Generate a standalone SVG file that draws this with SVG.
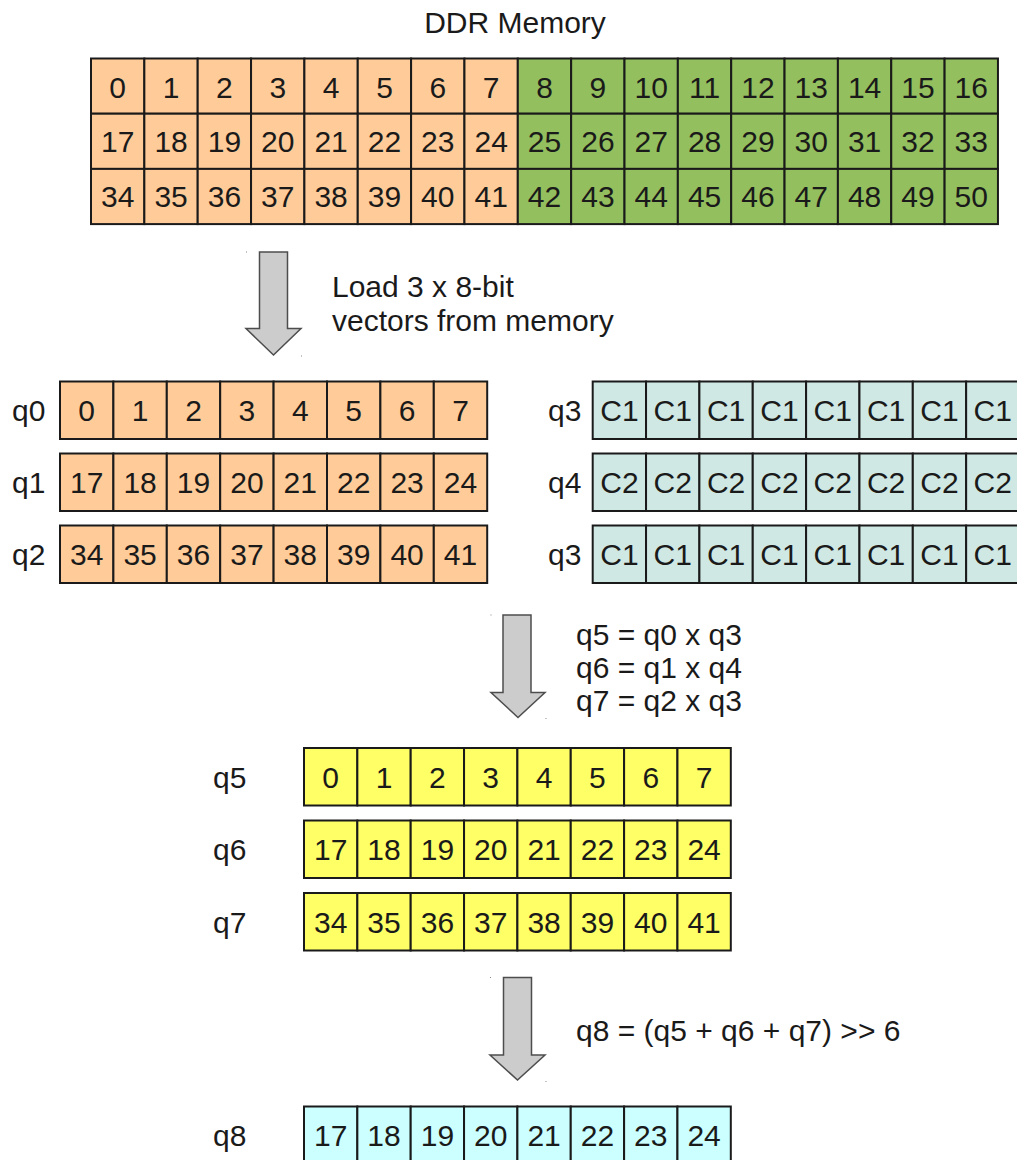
<svg xmlns="http://www.w3.org/2000/svg" width="1017" height="1160" viewBox="0 0 1017 1160">
  <style>
    text { font-family: "Liberation Sans", Arial, sans-serif; font-size: 30px; fill: #1a1a1a; }
    .c { text-anchor: middle; }
    .cell { stroke: #1a1a1a; stroke-width: 2; }
    .peach { fill: #ffcc99; }
    .green { fill: #94bf5e; }
    .teal { fill: #d0e8e4; }
    .yellow { fill: #ffff66; }
    .cyan { fill: #ccffff; }
    .arrow { fill: #cccccc; stroke: #4d4d4d; stroke-width: 1.5; stroke-linejoin: miter; }
    .dot { fill: #888888; }
  </style>

  <rect width="1017" height="1160" fill="#ffffff"/>

  <!-- DDR memory block: 3 rows x 17 bytes -->
  <g id="ddr-memory">
    <text class="c" x="515" y="33">DDR Memory</text>
    <g class="cell">
      <!-- row 0..2, columns 0..7 peach, 8..16 green -->
      <rect class="peach" x="91" y="58.5" width="53.35" height="55.2"/>
      <rect class="peach" x="144.35" y="58.5" width="53.35" height="55.2"/>
      <rect class="peach" x="197.7" y="58.5" width="53.35" height="55.2"/>
      <rect class="peach" x="251.05" y="58.5" width="53.35" height="55.2"/>
      <rect class="peach" x="304.4" y="58.5" width="53.35" height="55.2"/>
      <rect class="peach" x="357.75" y="58.5" width="53.35" height="55.2"/>
      <rect class="peach" x="411.1" y="58.5" width="53.35" height="55.2"/>
      <rect class="peach" x="464.45" y="58.5" width="53.35" height="55.2"/>
      <rect class="green" x="517.8" y="58.5" width="53.35" height="55.2"/>
      <rect class="green" x="571.15" y="58.5" width="53.35" height="55.2"/>
      <rect class="green" x="624.5" y="58.5" width="53.35" height="55.2"/>
      <rect class="green" x="677.85" y="58.5" width="53.35" height="55.2"/>
      <rect class="green" x="731.2" y="58.5" width="53.35" height="55.2"/>
      <rect class="green" x="784.55" y="58.5" width="53.35" height="55.2"/>
      <rect class="green" x="837.9" y="58.5" width="53.35" height="55.2"/>
      <rect class="green" x="891.25" y="58.5" width="53.35" height="55.2"/>
      <rect class="green" x="944.6" y="58.5" width="53.35" height="55.2"/>

      <rect class="peach" x="91" y="113.7" width="53.35" height="55.2"/>
      <rect class="peach" x="144.35" y="113.7" width="53.35" height="55.2"/>
      <rect class="peach" x="197.7" y="113.7" width="53.35" height="55.2"/>
      <rect class="peach" x="251.05" y="113.7" width="53.35" height="55.2"/>
      <rect class="peach" x="304.4" y="113.7" width="53.35" height="55.2"/>
      <rect class="peach" x="357.75" y="113.7" width="53.35" height="55.2"/>
      <rect class="peach" x="411.1" y="113.7" width="53.35" height="55.2"/>
      <rect class="peach" x="464.45" y="113.7" width="53.35" height="55.2"/>
      <rect class="green" x="517.8" y="113.7" width="53.35" height="55.2"/>
      <rect class="green" x="571.15" y="113.7" width="53.35" height="55.2"/>
      <rect class="green" x="624.5" y="113.7" width="53.35" height="55.2"/>
      <rect class="green" x="677.85" y="113.7" width="53.35" height="55.2"/>
      <rect class="green" x="731.2" y="113.7" width="53.35" height="55.2"/>
      <rect class="green" x="784.55" y="113.7" width="53.35" height="55.2"/>
      <rect class="green" x="837.9" y="113.7" width="53.35" height="55.2"/>
      <rect class="green" x="891.25" y="113.7" width="53.35" height="55.2"/>
      <rect class="green" x="944.6" y="113.7" width="53.35" height="55.2"/>

      <rect class="peach" x="91" y="168.9" width="53.35" height="55.2"/>
      <rect class="peach" x="144.35" y="168.9" width="53.35" height="55.2"/>
      <rect class="peach" x="197.7" y="168.9" width="53.35" height="55.2"/>
      <rect class="peach" x="251.05" y="168.9" width="53.35" height="55.2"/>
      <rect class="peach" x="304.4" y="168.9" width="53.35" height="55.2"/>
      <rect class="peach" x="357.75" y="168.9" width="53.35" height="55.2"/>
      <rect class="peach" x="411.1" y="168.9" width="53.35" height="55.2"/>
      <rect class="peach" x="464.45" y="168.9" width="53.35" height="55.2"/>
      <rect class="green" x="517.8" y="168.9" width="53.35" height="55.2"/>
      <rect class="green" x="571.15" y="168.9" width="53.35" height="55.2"/>
      <rect class="green" x="624.5" y="168.9" width="53.35" height="55.2"/>
      <rect class="green" x="677.85" y="168.9" width="53.35" height="55.2"/>
      <rect class="green" x="731.2" y="168.9" width="53.35" height="55.2"/>
      <rect class="green" x="784.55" y="168.9" width="53.35" height="55.2"/>
      <rect class="green" x="837.9" y="168.9" width="53.35" height="55.2"/>
      <rect class="green" x="891.25" y="168.9" width="53.35" height="55.2"/>
      <rect class="green" x="944.6" y="168.9" width="53.35" height="55.2"/>
    </g>
    <g class="c">
      <text x="117.7" y="97.5">0</text><text x="171.1" y="97.5">1</text><text x="224.4" y="97.5">2</text><text x="277.8" y="97.5">3</text>
      <text x="331.1" y="97.5">4</text><text x="384.5" y="97.5">5</text><text x="437.8" y="97.5">6</text><text x="491.2" y="97.5">7</text>
      <text x="544.5" y="97.5">8</text><text x="597.9" y="97.5">9</text><text x="651.2" y="97.5">10</text><text x="704.6" y="97.5">11</text>
      <text x="757.9" y="97.5">12</text><text x="811.3" y="97.5">13</text><text x="864.6" y="97.5">14</text><text x="918" y="97.5">15</text>
      <text x="971.3" y="97.5">16</text>

      <text x="117.7" y="152">17</text><text x="171.1" y="152">18</text><text x="224.4" y="152">19</text><text x="277.8" y="152">20</text>
      <text x="331.1" y="152">21</text><text x="384.5" y="152">22</text><text x="437.8" y="152">23</text><text x="491.2" y="152">24</text>
      <text x="544.5" y="152">25</text><text x="597.9" y="152">26</text><text x="651.2" y="152">27</text><text x="704.6" y="152">28</text>
      <text x="757.9" y="152">29</text><text x="811.3" y="152">30</text><text x="864.6" y="152">31</text><text x="918" y="152">32</text>
      <text x="971.3" y="152">33</text>

      <text x="117.7" y="207">34</text><text x="171.1" y="207">35</text><text x="224.4" y="207">36</text><text x="277.8" y="207">37</text>
      <text x="331.1" y="207">38</text><text x="384.5" y="207">39</text><text x="437.8" y="207">40</text><text x="491.2" y="207">41</text>
      <text x="544.5" y="207">42</text><text x="597.9" y="207">43</text><text x="651.2" y="207">44</text><text x="704.6" y="207">45</text>
      <text x="757.9" y="207">46</text><text x="811.3" y="207">47</text><text x="864.6" y="207">48</text><text x="918" y="207">49</text>
      <text x="971.3" y="207">50</text>
    </g>
  </g>

  <!-- Block arrows between stages, with their captions -->
  <g id="connectors">
    <path class="arrow" d="M259.5,252 H287.5 V328.5 H301 L273.5,355 L246,328.5 H259.5 Z"/>
    <rect class="dot" x="246" y="251.5" width="1" height="1"/>
    <rect class="dot" x="301" y="355.5" width="1" height="1"/>
    <text x="332" y="297">Load 3 x 8-bit</text>
    <text x="332" y="331">vectors from memory</text>

    <path class="arrow" d="M503,615 H531 V692.5 H545 L518,717.5 L491,692.5 H503 Z"/>
    <rect class="dot" x="490.5" y="614.5" width="1" height="1"/>
    <rect class="dot" x="545.5" y="718" width="1" height="1"/>
    <text x="576" y="644.5">q5 = q0 x q3</text>
    <text x="576" y="677.5">q6 = q1 x q4</text>
    <text x="576" y="710.5">q7 = q2 x q3</text>

    <path class="arrow" d="M503.5,977.5 H531.5 V1055 H545 L517.5,1080 L490,1055 H503.5 Z"/>
    <rect class="dot" x="490" y="977" width="1" height="1"/>
    <rect class="dot" x="545.5" y="1081" width="1" height="1"/>
    <text x="576" y="1040.5">q8 = (q5 + q6 + q7) &gt;&gt; 6</text>
  </g>

  <!-- Loaded data registers -->
  <g id="reg-q0">
    <text x="12" y="421">q0</text>
    <g class="cell peach">
      <rect x="60" y="381.5" width="53.4" height="57.5"/><rect x="113.4" y="381.5" width="53.4" height="57.5"/>
      <rect x="166.8" y="381.5" width="53.4" height="57.5"/><rect x="220.2" y="381.5" width="53.4" height="57.5"/>
      <rect x="273.6" y="381.5" width="53.4" height="57.5"/><rect x="327" y="381.5" width="53.4" height="57.5"/>
      <rect x="380.4" y="381.5" width="53.4" height="57.5"/><rect x="433.8" y="381.5" width="53.4" height="57.5"/>
    </g>
    <g class="c">
      <text x="86.7" y="421">0</text><text x="140.1" y="421">1</text><text x="193.5" y="421">2</text><text x="246.9" y="421">3</text>
      <text x="300.3" y="421">4</text><text x="353.7" y="421">5</text><text x="407.1" y="421">6</text><text x="460.5" y="421">7</text>
    </g>
  </g>
  <g id="reg-q1">
    <text x="12" y="493">q1</text>
    <g class="cell peach">
      <rect x="60" y="453.5" width="53.4" height="57.5"/><rect x="113.4" y="453.5" width="53.4" height="57.5"/>
      <rect x="166.8" y="453.5" width="53.4" height="57.5"/><rect x="220.2" y="453.5" width="53.4" height="57.5"/>
      <rect x="273.6" y="453.5" width="53.4" height="57.5"/><rect x="327" y="453.5" width="53.4" height="57.5"/>
      <rect x="380.4" y="453.5" width="53.4" height="57.5"/><rect x="433.8" y="453.5" width="53.4" height="57.5"/>
    </g>
    <g class="c">
      <text x="86.7" y="493">17</text><text x="140.1" y="493">18</text><text x="193.5" y="493">19</text><text x="246.9" y="493">20</text>
      <text x="300.3" y="493">21</text><text x="353.7" y="493">22</text><text x="407.1" y="493">23</text><text x="460.5" y="493">24</text>
    </g>
  </g>
  <g id="reg-q2">
    <text x="12" y="565">q2</text>
    <g class="cell peach">
      <rect x="60" y="525.5" width="53.4" height="57.5"/><rect x="113.4" y="525.5" width="53.4" height="57.5"/>
      <rect x="166.8" y="525.5" width="53.4" height="57.5"/><rect x="220.2" y="525.5" width="53.4" height="57.5"/>
      <rect x="273.6" y="525.5" width="53.4" height="57.5"/><rect x="327" y="525.5" width="53.4" height="57.5"/>
      <rect x="380.4" y="525.5" width="53.4" height="57.5"/><rect x="433.8" y="525.5" width="53.4" height="57.5"/>
    </g>
    <g class="c">
      <text x="86.7" y="565">34</text><text x="140.1" y="565">35</text><text x="193.5" y="565">36</text><text x="246.9" y="565">37</text>
      <text x="300.3" y="565">38</text><text x="353.7" y="565">39</text><text x="407.1" y="565">40</text><text x="460.5" y="565">41</text>
    </g>
  </g>

  <!-- Coefficient registers -->
  <g id="reg-q3-top">
    <text x="548" y="421">q3</text>
    <g class="cell teal">
      <rect x="592.7" y="381.5" width="53.35" height="57.5"/><rect x="646.05" y="381.5" width="53.35" height="57.5"/>
      <rect x="699.4" y="381.5" width="53.35" height="57.5"/><rect x="752.75" y="381.5" width="53.35" height="57.5"/>
      <rect x="806.1" y="381.5" width="53.35" height="57.5"/><rect x="859.45" y="381.5" width="53.35" height="57.5"/>
      <rect x="912.8" y="381.5" width="53.35" height="57.5"/><rect x="966.15" y="381.5" width="53.35" height="57.5"/>
    </g>
    <g class="c">
      <text x="619.4" y="421">C1</text><text x="672.7" y="421">C1</text><text x="726.1" y="421">C1</text><text x="779.4" y="421">C1</text>
      <text x="832.8" y="421">C1</text><text x="886.1" y="421">C1</text><text x="939.5" y="421">C1</text><text x="992.8" y="421">C1</text>
    </g>
  </g>
  <g id="reg-q4">
    <text x="548" y="493">q4</text>
    <g class="cell teal">
      <rect x="592.7" y="453.5" width="53.35" height="57.5"/><rect x="646.05" y="453.5" width="53.35" height="57.5"/>
      <rect x="699.4" y="453.5" width="53.35" height="57.5"/><rect x="752.75" y="453.5" width="53.35" height="57.5"/>
      <rect x="806.1" y="453.5" width="53.35" height="57.5"/><rect x="859.45" y="453.5" width="53.35" height="57.5"/>
      <rect x="912.8" y="453.5" width="53.35" height="57.5"/><rect x="966.15" y="453.5" width="53.35" height="57.5"/>
    </g>
    <g class="c">
      <text x="619.4" y="493">C2</text><text x="672.7" y="493">C2</text><text x="726.1" y="493">C2</text><text x="779.4" y="493">C2</text>
      <text x="832.8" y="493">C2</text><text x="886.1" y="493">C2</text><text x="939.5" y="493">C2</text><text x="992.8" y="493">C2</text>
    </g>
  </g>
  <g id="reg-q3-bottom">
    <text x="548" y="565">q3</text>
    <g class="cell teal">
      <rect x="592.7" y="525.5" width="53.35" height="57.5"/><rect x="646.05" y="525.5" width="53.35" height="57.5"/>
      <rect x="699.4" y="525.5" width="53.35" height="57.5"/><rect x="752.75" y="525.5" width="53.35" height="57.5"/>
      <rect x="806.1" y="525.5" width="53.35" height="57.5"/><rect x="859.45" y="525.5" width="53.35" height="57.5"/>
      <rect x="912.8" y="525.5" width="53.35" height="57.5"/><rect x="966.15" y="525.5" width="53.35" height="57.5"/>
    </g>
    <g class="c">
      <text x="619.4" y="565">C1</text><text x="672.7" y="565">C1</text><text x="726.1" y="565">C1</text><text x="779.4" y="565">C1</text>
      <text x="832.8" y="565">C1</text><text x="886.1" y="565">C1</text><text x="939.5" y="565">C1</text><text x="992.8" y="565">C1</text>
    </g>
  </g>

  <!-- Product registers -->
  <g id="reg-q5">
    <text x="213" y="787.5">q5</text>
    <g class="cell yellow">
      <rect x="304" y="748" width="53.35" height="57.5"/><rect x="357.35" y="748" width="53.35" height="57.5"/>
      <rect x="410.7" y="748" width="53.35" height="57.5"/><rect x="464.05" y="748" width="53.35" height="57.5"/>
      <rect x="517.4" y="748" width="53.35" height="57.5"/><rect x="570.75" y="748" width="53.35" height="57.5"/>
      <rect x="624.1" y="748" width="53.35" height="57.5"/><rect x="677.45" y="748" width="53.35" height="57.5"/>
    </g>
    <g class="c">
      <text x="330.7" y="787.5">0</text><text x="384" y="787.5">1</text><text x="437.4" y="787.5">2</text><text x="490.7" y="787.5">3</text>
      <text x="544.1" y="787.5">4</text><text x="597.4" y="787.5">5</text><text x="650.8" y="787.5">6</text><text x="704.1" y="787.5">7</text>
    </g>
  </g>
  <g id="reg-q6">
    <text x="213" y="860">q6</text>
    <g class="cell yellow">
      <rect x="304" y="820.5" width="53.35" height="57.5"/><rect x="357.35" y="820.5" width="53.35" height="57.5"/>
      <rect x="410.7" y="820.5" width="53.35" height="57.5"/><rect x="464.05" y="820.5" width="53.35" height="57.5"/>
      <rect x="517.4" y="820.5" width="53.35" height="57.5"/><rect x="570.75" y="820.5" width="53.35" height="57.5"/>
      <rect x="624.1" y="820.5" width="53.35" height="57.5"/><rect x="677.45" y="820.5" width="53.35" height="57.5"/>
    </g>
    <g class="c">
      <text x="330.7" y="860">17</text><text x="384" y="860">18</text><text x="437.4" y="860">19</text><text x="490.7" y="860">20</text>
      <text x="544.1" y="860">21</text><text x="597.4" y="860">22</text><text x="650.8" y="860">23</text><text x="704.1" y="860">24</text>
    </g>
  </g>
  <g id="reg-q7">
    <text x="213" y="932.5">q7</text>
    <g class="cell yellow">
      <rect x="304" y="893" width="53.35" height="57.5"/><rect x="357.35" y="893" width="53.35" height="57.5"/>
      <rect x="410.7" y="893" width="53.35" height="57.5"/><rect x="464.05" y="893" width="53.35" height="57.5"/>
      <rect x="517.4" y="893" width="53.35" height="57.5"/><rect x="570.75" y="893" width="53.35" height="57.5"/>
      <rect x="624.1" y="893" width="53.35" height="57.5"/><rect x="677.45" y="893" width="53.35" height="57.5"/>
    </g>
    <g class="c">
      <text x="330.7" y="932.5">34</text><text x="384" y="932.5">35</text><text x="437.4" y="932.5">36</text><text x="490.7" y="932.5">37</text>
      <text x="544.1" y="932.5">38</text><text x="597.4" y="932.5">39</text><text x="650.8" y="932.5">40</text><text x="704.1" y="932.5">41</text>
    </g>
  </g>

  <!-- Result register -->
  <g id="reg-q8">
    <text x="213" y="1146">q8</text>
    <g class="cell cyan">
      <rect x="304" y="1106.5" width="53.35" height="57.5"/><rect x="357.35" y="1106.5" width="53.35" height="57.5"/>
      <rect x="410.7" y="1106.5" width="53.35" height="57.5"/><rect x="464.05" y="1106.5" width="53.35" height="57.5"/>
      <rect x="517.4" y="1106.5" width="53.35" height="57.5"/><rect x="570.75" y="1106.5" width="53.35" height="57.5"/>
      <rect x="624.1" y="1106.5" width="53.35" height="57.5"/><rect x="677.45" y="1106.5" width="53.35" height="57.5"/>
    </g>
    <g class="c">
      <text x="330.7" y="1146">17</text><text x="384" y="1146">18</text><text x="437.4" y="1146">19</text><text x="490.7" y="1146">20</text>
      <text x="544.1" y="1146">21</text><text x="597.4" y="1146">22</text><text x="650.8" y="1146">23</text><text x="704.1" y="1146">24</text>
    </g>
  </g>
</svg>
